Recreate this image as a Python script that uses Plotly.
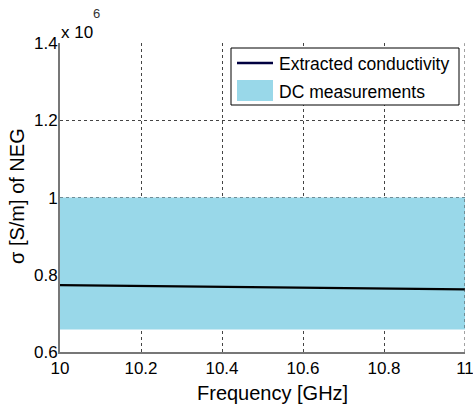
import plotly.graph_objects as go

# Data (conductivity in units of 1e6 S/m)
freq_ghz = [10.0, 10.2, 10.4, 10.6, 10.8, 11.0]
sigma_extracted = [0.773, 0.771, 0.769, 0.767, 0.765, 0.762]
dc_low = 0.658
dc_high = 1.0
x_ticks = [10, 10.2, 10.4, 10.6, 10.8, 11]
x_tick_labels = ["10", "10.2", "10.4", "10.6", "10.8", "11"]
y_ticks = [0.6, 0.8, 1.0, 1.2, 1.4]
y_tick_labels = ["0.6", "0.8", "1", "1.2", "1.4"]
legend_names = ["Extracted conductivity", "DC measurements"]
x_title = "Frequency [GHz]"
y_title = "σ [S/m] of NEG"

FONT = "Liberation Sans, Arial, sans-serif"
band_color = "#99D8E9"
grid_color = "#444444"

W, H = 473, 406
L, R, T, B = 60, 8, 43, 54
PW, PH = W - L - R, H - T - B


def px(X):
    return (X - L) / PW


def py(Y):
    return (H - B - Y) / PH


fig = go.Figure()

fig.add_trace(go.Scatter(
    x=[freq_ghz[0], freq_ghz[-1], freq_ghz[-1], freq_ghz[0], freq_ghz[0]],
    y=[dc_low, dc_low, dc_high, dc_high, dc_low],
    fill="toself", fillcolor=band_color, mode="none",
    name=legend_names[1], showlegend=False, hoverinfo="skip",
))

fig.add_trace(go.Scatter(
    x=freq_ghz, y=sigma_extracted, mode="lines",
    line=dict(color="black", width=2.2),
    name=legend_names[0], showlegend=False,
))

fig.update_layout(
    width=W, height=H,
    margin=dict(l=L, r=R, t=T, b=B),
    paper_bgcolor="white", plot_bgcolor="white",
    font=dict(family=FONT, size=16, color="black"),
    showlegend=False,
    xaxis=dict(
        range=[10, 11], tickvals=x_ticks, ticktext=x_tick_labels,
        showgrid=True, gridcolor=grid_color, griddash="dot", gridwidth=1,
        showline=True, linecolor="#777777", linewidth=2, mirror=False,
        ticks="", zeroline=False, automargin=False,
        ticklabeloverflow="allow",
        tickfont=dict(size=17),
    ),
    yaxis=dict(
        range=[0.6, 1.4004], tickvals=y_ticks, ticktext=y_tick_labels,
        showgrid=True, gridcolor=grid_color, griddash="dot", gridwidth=1,
        showline=True, linecolor="#777777", linewidth=2, mirror=False,
        ticks="", zeroline=False, automargin=False,
        ticklabeloverflow="allow", ticklabelstandoff=-3,
        tickfont=dict(size=17),
    ),
)

# Right-edge grid line at x = 11 (plotly skips grid lines at range ends)
fig.add_shape(type="line", xref="x", yref="y",
              x0=x_ticks[-1], x1=x_ticks[-1], y0=y_ticks[0], y1=y_ticks[-1],
              line=dict(color=grid_color, width=1, dash="dot"), layer="above")

# Axis titles
fig.add_annotation(xref="paper", yref="paper", x=px(272), y=py(393),
                   xanchor="center", yanchor="middle", text=x_title,
                   showarrow=False, font=dict(family=FONT, size=20))
fig.add_annotation(xref="paper", yref="paper", x=px(17), y=py(196),
                   xanchor="center", yanchor="middle", text=y_title,
                   textangle=-90, showarrow=False, font=dict(family=FONT, size=20))

# Custom legend (box, samples, labels)
fig.add_shape(type="rect", xref="paper", yref="paper",
              x0=px(231), x1=px(459), y0=py(105), y1=py(48),
              fillcolor="white", line=dict(color="black", width=1), layer="above")
fig.add_shape(type="line", xref="paper", yref="paper",
              x0=px(237), x1=px(273), y0=py(63), y1=py(63),
              line=dict(color="#000040", width=2.5), layer="above")
fig.add_shape(type="rect", xref="paper", yref="paper",
              x0=px(237), x1=px(273), y0=py(101), y1=py(80),
              fillcolor=band_color, line=dict(width=0), layer="above")
fig.add_annotation(xref="paper", yref="paper", x=px(277), y=py(64),
                   xanchor="left", yanchor="middle", text=legend_names[0],
                   showarrow=False, font=dict(family=FONT, size=17.5))
fig.add_annotation(xref="paper", yref="paper", x=px(277), y=py(92),
                   xanchor="left", yanchor="middle", text=legend_names[1],
                   showarrow=False, font=dict(family=FONT, size=17.5))

# Exponent label
fig.add_annotation(xref="paper", yref="paper", x=px(59), y=py(33),
                   xanchor="left", yanchor="middle", text="x 10",
                   showarrow=False, font=dict(family=FONT, size=17))
fig.add_annotation(xref="paper", yref="paper", x=px(91), y=py(13),
                   xanchor="left", yanchor="middle", text="6",
                   showarrow=False, font=dict(family=FONT, size=13, color="#333333"))

fig.write_html(
    "out.html",
    config={"displayModeBar": False},
    post_script="document.body.style.margin='0';document.body.style.overflow='hidden';",
)
